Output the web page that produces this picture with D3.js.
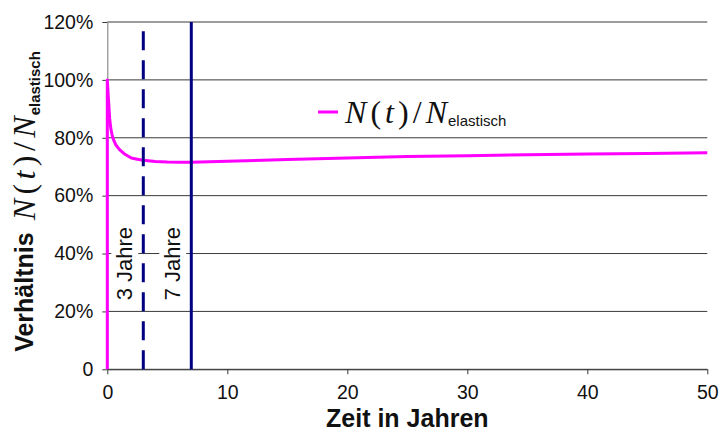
<!DOCTYPE html>
<html>
<head>
<meta charset="utf-8">
<script src="https://cdn.jsdelivr.net/npm/d3@7"></script>
<style>
  html, body { margin: 0; padding: 0; background: #fff; }
  svg { display: block; }
</style>
</head>
<body>
<svg id="chart" width="720" height="432" font-family="Liberation Sans, Arial, sans-serif"></svg>
<script>
// Zeit in Jahren and the ratio N(t)/N_elastisch in percent
const years = [0, 0, 0.1, 0.2, 0.3, 0.4, 0.5, 0.7, 1, 1.4, 2, 2.5, 3, 4, 5, 6, 7, 10, 15, 20, 25, 30, 35, 40, 45, 50];
const ratio = [0, 100, 93, 86.5, 83, 81, 79.5, 77.6, 76, 74.5, 73, 72.6, 72.2, 71.8, 71.6, 71.5, 71.5, 71.9, 72.5, 73.0, 73.5, 73.8, 74.1, 74.4, 74.6, 74.8];

// Marker lines
const markerYears = [3, 7];
const markerLabels = ["3 Jahre", "7 Jahre"];
const markerDashed = [true, false];

// Axis ticks
const xTicks = [0, 10, 20, 30, 40, 50];
const yTicks = [0, 20, 40, 60, 80, 100, 120];

const SANS = "'Liberation Sans', Arial, sans-serif";
const SERIF = "'Liberation Serif', 'Times New Roman', serif";

const svg = d3.select("#chart");
const margin = { left: 107.3, right: 12.7, top: 22, bottom: 62.7 };
const W = 720, H = 432;

const x = d3.scaleLinear().domain([0, 50]).range([margin.left, W - margin.right]);
const y = d3.scaleLinear().domain([0, 120]).range([H - margin.bottom, margin.top]);

// Horizontal gridlines
svg.append("g")
  .selectAll("line")
  .data(yTicks)
  .join("line")
  .attr("x1", x(0)).attr("x2", x(50))
  .attr("y1", d => y(d)).attr("y2", d => y(d))
  .attr("stroke", "#3a3a3a").attr("stroke-width", 1);

// Y axis
const yAxis = svg.append("g")
  .attr("transform", `translate(${x(0)},0)`)
  .call(d3.axisLeft(y).tickValues(yTicks).tickSize(5).tickSizeOuter(0).tickPadding(9)
    .tickFormat(d => d === 0 ? "0" : d + "%"));
yAxis.select(".domain").attr("stroke", "#777").attr("stroke-width", 1);
yAxis.selectAll(".tick line").attr("stroke", "#3a3a3a");
yAxis.selectAll(".tick text").style("font-family", SANS)
  .style("font-size", "19.5px").attr("fill", "#111");

// X axis
const xAxis = svg.append("g")
  .attr("transform", `translate(0,${y(0)})`)
  .call(d3.axisBottom(x).tickValues(xTicks).tickSize(5).tickSizeOuter(0).tickPadding(11)
    .tickFormat(d3.format("d")));
xAxis.select(".domain").attr("stroke", "#3a3a3a").attr("stroke-width", 1);
xAxis.selectAll(".tick line").attr("stroke", "#3a3a3a");
xAxis.selectAll(".tick text").style("font-family", SANS)
  .style("font-size", "19.5px").attr("fill", "#111");

// Ratio curve
const pts = years.map((t, i) => [t, ratio[i]]);
svg.append("path")
  .datum(pts)
  .attr("fill", "none")
  .attr("stroke", "#ff00ff")
  .attr("stroke-width", 3)
  .attr("stroke-linejoin", "round")
  .attr("d", d3.line().x(d => x(d[0])).y(d => y(d[1])));

// Marker labels with white boxes
markerYears.forEach((t, i) => {
  const g = svg.append("g")
    .attr("transform", `translate(${x(t) - 11},${y(0) - 69}) rotate(-90)`);
  const txt = g.append("text")
    .attr("x", 0).attr("y", 0)
    .style("font-family", SANS)
    .style("font-size", "22px")
    .attr("fill", "#111")
    .text(markerLabels[i]);
  const bb = txt.node().getBBox();
  g.insert("rect", "text")
    .attr("x", bb.x - 4).attr("y", bb.y - 1)
    .attr("width", bb.width + 8).attr("height", bb.height + 2)
    .attr("fill", "#fff");
});

// Marker lines
markerYears.forEach((t, i) => {
  svg.append("line")
    .attr("x1", x(t)).attr("x2", x(t))
    .attr("y1", y(0)).attr("y2", y(120))
    .attr("stroke", "#000080")
    .attr("stroke-width", 3)
    .attr("stroke-dasharray", markerDashed[i] ? "19,10" : null);
});

// Math label helper: N(t)/N, with the subscript added separately
function mathLabel(g, x0, base, size, len) {
  const t = g.append("text")
    .attr("x", x0).attr("y", base)
    .style("font-family", SERIF)
    .style("font-size", size + "px")
    .attr("fill", "#111")
    .attr("textLength", len)
    .attr("lengthAdjust", "spacing");
  t.append("tspan").style("font-style", "italic").text("N");
  t.append("tspan").text("(");
  t.append("tspan").style("font-style", "italic").text("t");
  t.append("tspan").text(")/");
  t.append("tspan").style("font-style", "italic").text("N");
  return t;
}

// Legend
svg.append("line")
  .attr("x1", 318).attr("x2", 338).attr("y1", 112).attr("y2", 112)
  .attr("stroke", "#ff00ff").attr("stroke-width", 3);
const lg = svg.append("g");
mathLabel(lg, 345, 123, 32, 102);
lg.append("text")
  .attr("x", 448).attr("y", 126)
  .style("font-family", SANS)
  .style("font-size", "15px").attr("fill", "#111")
  .text("elastisch");

// X axis title
svg.append("text")
  .attr("x", (x(0) + x(50)) / 2).attr("y", 427)
  .attr("text-anchor", "middle")
  .style("font-family", SANS)
  .style("font-size", "25px").style("font-weight", "bold").attr("fill", "#111")
  .text("Zeit in Jahren");

// Y axis title
const yt = svg.append("g").attr("transform", "translate(33,202) rotate(-90)");
const tV = yt.append("text").attr("y", 0)
  .style("font-family", SANS)
  .style("font-size", "25px").style("font-weight", "bold").attr("fill", "#111")
  .text("Verhältnis");
const wV = tV.node().getComputedTextLength();
const tS = yt.append("text").attr("y", 7)
  .style("font-family", SANS)
  .style("font-size", "15px").style("font-weight", "bold").attr("fill", "#111")
  .text("elastisch");
const wS = tS.node().getComputedTextLength();
const gap = 12, wM = 104;
const start = -(wV + gap + wM + wS) / 2;
tV.attr("x", start);
mathLabel(yt, start + wV + gap, 2, 32, wM);
tS.attr("x", start + wV + gap + wM + 1);
</script>
</body>
</html>
